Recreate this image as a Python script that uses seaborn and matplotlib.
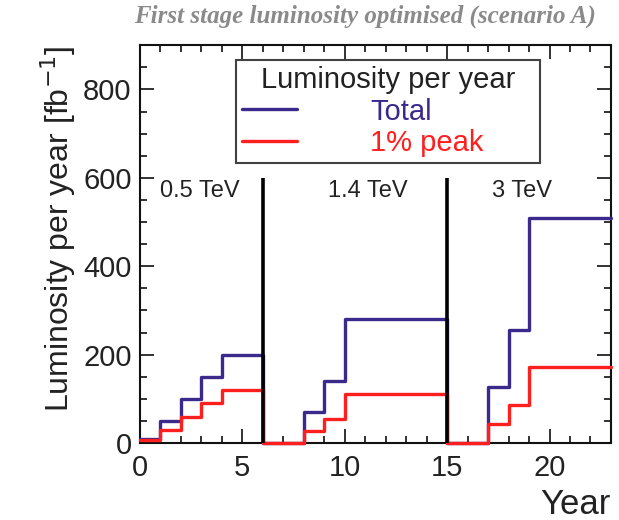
import matplotlib
matplotlib.use("Agg")
import matplotlib.pyplot as plt
from matplotlib.ticker import MultipleLocator
import seaborn as sns
import pandas as pd

# Integrated luminosity delivered per year, one value per calendar year (bins 0..23)
year_edges = list(range(0, 24))
total_per_year = [10, 50, 100, 150, 200, 200, 0, 0, 70, 140, 280, 280, 280,
                  280, 280, 0, 0, 127.5, 255, 510, 510, 510, 510]
peak_per_year = [6, 30, 60, 90, 120, 120, 0, 0, 27.5, 55, 110, 110, 110,
                 110, 110, 0, 0, 43, 86, 172, 172, 172, 172]
series_names = ["Total", "1% peak"]
series_colors = ["#3b2a8c", "#ff1f1f"]

# Energy stages and the boundaries between them
stage_labels = ["0.5 TeV", "1.4 TeV", "3 TeV"]
stage_label_x = [1.0, 9.2, 17.2]
stage_boundaries = [6, 15]
stage_line_top = 600

sns.set_theme(style="ticks")
plt.rcParams["font.family"] = ["Liberation Sans", "DejaVu Sans"]

# steps-post needs the last value repeated at the closing edge
rows = []
for name, vals in zip(series_names, [total_per_year, peak_per_year]):
    ext = vals + [vals[-1]]
    for x, v in zip(year_edges, ext):
        rows.append({"Year": x, "Lumi": v, "Series": name})
df = pd.DataFrame(rows)

fig = plt.figure(figsize=(6.19, 5.2), dpi=100)
ax = fig.add_axes([0.226, 0.148, 0.761, 0.765])

sns.lineplot(data=df, x="Year", y="Lumi", hue="Series",
             hue_order=series_names,
             palette=dict(zip(series_names, series_colors)),
             estimator=None, drawstyle="steps-post", linewidth=2.4,
             legend=False, ax=ax)
for ln in ax.get_lines():
    ln.set_zorder(3)
    ln.set_clip_on(False)

ax.vlines(stage_boundaries, 0, stage_line_top, colors="black", linewidth=2.6,
          zorder=5)

for lbl, x in zip(stage_labels, stage_label_x):
    ax.text(x, 570, lbl, fontsize=17, color="#222222", ha="left", va="center")

ax.set_xlim(0, 23)
ax.set_ylim(0, 900)
ax.xaxis.set_major_locator(MultipleLocator(5))
ax.xaxis.set_minor_locator(MultipleLocator(1))
ax.yaxis.set_major_locator(MultipleLocator(200))
ax.yaxis.set_minor_locator(MultipleLocator(50))
ax.set_yticks([0, 200, 400, 600, 800])

ax.tick_params(which="both", direction="in", top=True, right=True,
               width=1.3, color="#222222", labelsize=21, labelcolor="#222222")
ax.tick_params(which="major", length=10)
ax.tick_params(which="minor", length=5)
ax.tick_params(axis="x", pad=8)
ax.tick_params(axis="y", pad=6)
for sp in ax.spines.values():
    sp.set_linewidth(1.5)
    sp.set_color("#111111")

ax.set_xlabel("Year", fontsize=25, loc="right", color="#222222", labelpad=4)
ax.set_ylabel("Luminosity per year [fb$^{-1}$]", fontsize=23, loc="top",
              color="#222222", labelpad=4)

handles = ax.get_lines()[:2]
leg = ax.legend(handles, series_names, title="Luminosity per year",
                loc="upper left", bbox_to_anchor=(0.204, 0.716, 0.645, 0.246),
                mode="expand", fontsize=21, title_fontsize=21,
                frameon=True, fancybox=False, edgecolor="#111111",
                handlelength=1.9, handletextpad=2.5, borderpad=0.2,
                labelspacing=0.12, borderaxespad=0)
leg.get_frame().set_linewidth(1.5)
for t, c in zip(leg.get_texts(), series_colors):
    t.set_color(c)
leg.get_title().set_color("#222222")

fig.text(0.962, 0.968, "First stage luminosity optimised (scenario A)",
         ha="right", va="center", fontsize=18, color="#8a8a8a",
         family="Liberation Serif", style="italic", weight="bold")

fig.savefig("out.png", dpi=100)
